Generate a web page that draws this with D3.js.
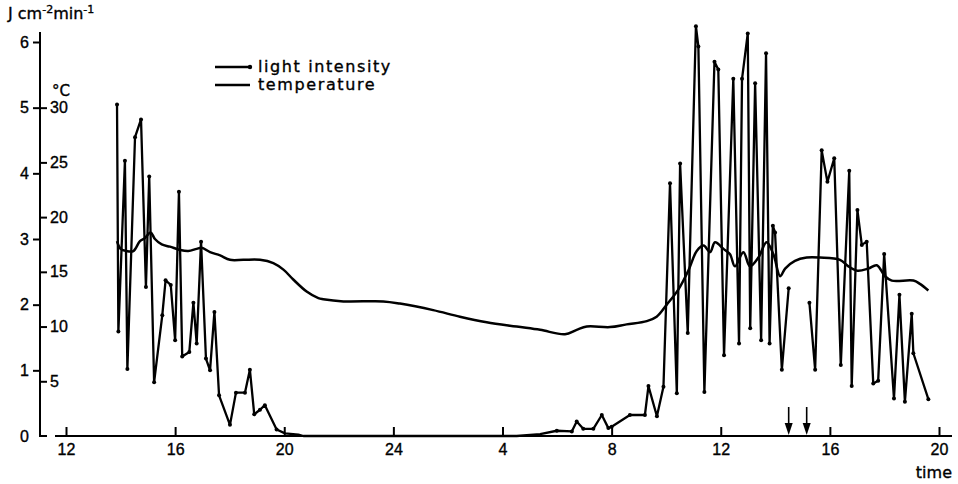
<!DOCTYPE html>
<html>
<head>
<meta charset="utf-8">
<script src="https://cdn.jsdelivr.net/npm/d3@7"></script>
<style>
  html, body { margin: 0; padding: 0; background: #fff; }
  svg { display: block; font-family: "DejaVu Sans", sans-serif; }
  svg text { stroke: #000; stroke-width: 0.35px; }
</style>
</head>
<body>
<svg id="chart" width="958" height="484"></svg>
<script>
// ---- data (time in hours from noon of day 1; 24 = midnight, 44 = 20:00 next day) ----
const lightTime = [13.87,13.92,14.16,14.25,14.53,14.75,14.93,15.05,15.23,15.53,15.65,15.84,16.00,16.14,16.26,16.52,16.67,16.79,16.95,17.13,17.28,17.44,17.61,18.01,18.23,18.56,18.74,18.90,19.11,19.29,19.72,20.03,20.52,20.70,
  28.52,29.38,29.99,30.54,30.72,30.96,31.33,31.64,31.88,32.00,32.67,33.22,33.35,33.66,33.90,34.14,34.39,34.51,34.79,35.09,35.18,35.40,35.77,35.91,36.12,36.46,36.67,36.78,36.99,37.08,37.26,37.48,37.66,37.79,37.91,37.99,38.24,38.49,
  38.80,
  39.25,39.46,39.70,39.91,40.16,40.40,40.71,40.80,41.01,41.17,41.35,41.59,41.77,41.99,42.35,42.55,42.75,43.00,43.06,43.61];
const lightValue = [5.05,1.59,4.19,1.02,4.55,4.82,2.27,3.95,0.82,1.84,2.37,2.30,1.46,3.72,1.21,1.28,2.03,1.41,2.96,1.18,1.00,1.89,0.62,0.17,0.66,0.66,1.01,0.33,0.40,0.47,0.10,0.04,0.02,0,
  0,0.03,0.08,0.07,0.22,0.11,0.11,0.32,0.12,0.14,0.32,0.32,0.76,0.30,0.75,3.85,0.65,4.15,1.57,6.24,5.93,0.67,5.70,5.58,1.23,5.44,1.41,5.44,6.13,1.64,5.37,1.46,5.83,1.41,3.20,3.10,1.01,2.25,
  null,
  2.03,1.01,4.35,3.87,4.23,1.08,4.04,0.76,3.44,2.91,2.96,0.80,0.84,2.77,0.57,2.15,0.52,1.86,1.26,0.56];

const tempTime = [13.87,14.00,14.22,14.47,14.71,14.90,15.10,15.26,15.51,15.81,16.18,16.48,16.79,16.97,17.28,17.65,18.01,18.50,19.11,19.60,19.97,20.33,20.82,21.25,21.43,22.17,23.63,24.24,25.46,26.44,27.42,28.52,29.38,30.29,30.72,31.09,31.94,32.55,33.29,33.65,34.02,34.45,34.81,35.12,35.37,35.61,35.79,36.10,36.34,36.52,36.83,37.07,37.38,37.68,37.93,38.18,38.36,38.72,39.15,39.64,40.37,40.68,41.01,41.41,41.72,42.02,42.27,43.06,43.30,43.61];
const tempValue = [17.8,17.1,16.9,16.9,17.8,18.1,18.6,18.0,17.5,17.3,17.0,16.9,17.1,17.2,16.8,16.5,16.1,16.1,16.1,15.8,15.2,14.3,13.2,12.6,12.5,12.3,12.3,12.1,11.5,10.9,10.4,10.0,9.7,9.3,9.7,10.0,9.95,10.2,10.5,10.9,12.0,13.4,15.1,16.9,17.4,16.8,17.7,17.1,16.6,15.5,16.8,15.5,16.3,17.7,16.6,14.6,15.3,16.0,16.3,16.3,16.1,15.5,15.1,15.3,15.6,14.6,14.2,14.2,13.9,13.3];

const xTickValues = [12,16,20,24,28,32,36,40,44];
const xTickLabels = ["12","16","20","24","4","8","12","16","20"];
const lightTicks = [0,1,2,3,4,5,6];
const tempTicks = [5,10,15,20,25,30];
const arrowTimes = [38.49, 39.15];
const legendLabels = ["light intensity", "temperature"];

// ---- build ----
const svg = d3.select("#chart");
const x = d3.scaleLinear().domain([12,44]).range([66,939]);
const yJ = d3.scaleLinear().domain([0,6]).range([436,42]);
const yT = d3.scaleLinear().domain([0,36]).range([436,42]);
const axisX = 40;

const light = lightTime.map((t,i) => ({t, v: lightValue[i]}));
const temp = tempTime.map((t,i) => ({t, v: tempValue[i]}));

// x axis
svg.append("line").attr("x1",55).attr("x2",952).attr("y1",yJ(0)).attr("y2",yJ(0))
  .attr("stroke","#000").attr("stroke-width",2);
const gx = svg.append("g").attr("transform",`translate(0,${yJ(0)})`)
  .call(d3.axisBottom(x).tickValues(xTickValues).tickFormat((d,i)=>xTickLabels[i]).tickSize(-9).tickPadding(4));
gx.select(".domain").remove();
gx.selectAll(".tick line").attr("stroke","#000").attr("stroke-width",2);
gx.selectAll(".tick text").attr("font-size",16).attr("fill","#000").attr("dy","0.95em");
svg.append("text").attr("x",952).attr("y",478).attr("text-anchor","end")
  .attr("font-size",16).text("time");

// y axis (light)
svg.append("path").attr("d",`M${axisX},32 V${yJ(0)} H${axisX+7}`)
  .attr("fill","none").attr("stroke","#000").attr("stroke-width",2);
const gyJ = svg.append("g").attr("transform",`translate(${axisX},0)`)
  .call(d3.axisLeft(yJ).tickValues(lightTicks).tickFormat(d3.format("d")).tickSize(7).tickPadding(4));
gyJ.select(".domain").remove();
gyJ.selectAll(".tick line").attr("stroke","#000").attr("stroke-width",2)
  .filter(d => d === 0).remove();
gyJ.selectAll(".tick text").attr("font-size",16).attr("fill","#000");

// y axis (temperature)
const gyT = svg.append("g").attr("transform",`translate(${axisX},0)`)
  .call(d3.axisRight(yT).tickValues(tempTicks).tickSize(7).tickPadding(3));
gyT.select(".domain").remove();
gyT.selectAll(".tick line").attr("stroke","#000").attr("stroke-width",2);
gyT.selectAll(".tick text").attr("font-size",16).attr("fill","#000");

// axis titles
const jt = svg.append("text").attr("x",8).attr("y",19).attr("font-size",16);
jt.append("tspan").text("J cm");
jt.append("tspan").attr("dy",-6).attr("font-size",11).text("-2");
jt.append("tspan").attr("dy",6).text("min");
jt.append("tspan").attr("dy",-6).attr("font-size",11).text("-1");
svg.append("text").attr("x",52).attr("y",96).attr("font-size",15).text("°C");

// temperature line
svg.append("path").datum(temp)
  .attr("d", d3.line().x(d=>x(d.t)).y(d=>yT(d.v)).curve(d3.curveCatmullRom.alpha(0.5)))
  .attr("fill","none").attr("stroke","#000").attr("stroke-width",2.5);

// light line
svg.append("path").datum(light)
  .attr("d", d3.line().defined(d=>d.v!==null).x(d=>x(d.t)).y(d=>yJ(d.v)))
  .attr("fill","none").attr("stroke","#000").attr("stroke-width",2.3).attr("stroke-linejoin","round");
svg.selectAll("circle.pt").data(light.filter(d=>d.v!==null && d.v>0.05))
  .join("circle").attr("class","pt")
  .attr("cx",d=>x(d.t)).attr("cy",d=>yJ(d.v)).attr("r",2).attr("fill","#000");

// arrows
arrowTimes.forEach(t => {
  const ax = x(t);
  svg.append("line").attr("x1",ax).attr("x2",ax).attr("y1",407).attr("y2",426)
    .attr("stroke","#000").attr("stroke-width",1.6);
  svg.append("path").attr("d",`M${ax-4},423 L${ax+4},423 L${ax},435 Z`).attr("fill","#000");
});

// legend
const lg = svg.append("g").attr("font-size",16).attr("letter-spacing","1.6px");
legendLabels.forEach((lab,i) => {
  const yy = 67 + i*18;
  lg.append("line").attr("x1",215).attr("x2",250).attr("y1",yy).attr("y2",yy)
    .attr("stroke","#000").attr("stroke-width",2.6);
  if (i===0) lg.append("circle").attr("cx",250).attr("cy",yy).attr("r",2.2).attr("fill","#000");
  lg.append("text").attr("x",258).attr("y",yy+5).text(lab);
});
</script>
</body>
</html>
